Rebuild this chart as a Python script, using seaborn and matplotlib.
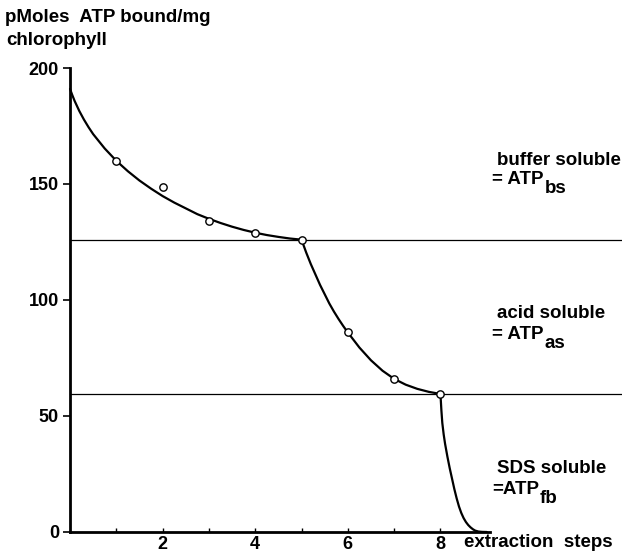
import matplotlib
matplotlib.use('Agg')
import matplotlib.pyplot as plt
import seaborn as sns

# measured points (open circles)
steps = [1, 2, 3, 4, 5, 6, 7, 8]
atp_bound = [160, 148.5, 134, 129, 126, 86, 66, 59.5]

# hand-drawn fitted curve
curve_x = [0, 0.05, 0.1, 0.2, 0.3, 0.4, 0.5, 0.75, 1, 1.25, 1.5, 1.75, 2, 2.25,
           2.5, 2.75, 3, 3.25, 3.5, 3.75, 4, 4.25, 4.5, 4.75, 5,
           5.1, 5.2, 5.3, 5.4, 5.5, 5.6, 5.7, 5.8, 5.9, 6, 6.25, 6.5, 6.75,
           7, 7.25, 7.5, 7.75, 8,
           8.01, 8.02, 8.04, 8.07, 8.1, 8.15, 8.2, 8.25, 8.3, 8.35, 8.4, 8.45, 8.5,
           8.55, 8.6, 8.65, 8.7, 8.75, 8.82, 8.9, 9.0]
curve_y = [191, 188.3, 185.8, 181.5, 177.8, 174.5, 171.5, 165.3, 160, 155.5, 151.5, 148, 144.8, 142,
           139.5, 137, 135, 133.2, 131.6, 130.2, 129, 128, 127.2, 126.5, 126,
           120.5, 115.5, 111, 106.5, 102.5, 98.5, 95, 91.8, 88.8, 86, 79.5, 74, 69.5,
           66, 63.5, 61.7, 60.4, 59.5,
           56, 52.5, 47, 42, 38, 32.5, 27.5, 23, 18.5, 14.5, 11, 8.2, 6,
           4.3, 3, 2, 1.2, 0.6, 0.2, 0.05, 0]

# fraction boundaries and labels
fraction_limits = [126, 59.5]
fraction_names = ['buffer soluble', 'acid soluble', 'SDS soluble']
fraction_eq = ['= ATP', '= ATP', '=ATP']
fraction_subs = ['bs', 'as', 'fb']

sns.set_theme(style='ticks')
plt.rcParams['font.family'] = ['Liberation Sans', 'DejaVu Sans']
plt.rcParams['font.weight'] = 'bold'
plt.rcParams['text.color'] = 'black'

W, H = 622, 559
FS = 13.5
fig = plt.figure(figsize=(W / 100, H / 100), dpi=100)
ax = fig.add_axes([70 / W, 27 / H, 420 / W, 464 / H])

for y in fraction_limits:
    ax.plot([0, 12], [y, y], color='black', lw=0.9, clip_on=False)

sns.lineplot(x=curve_x, y=curve_y, color='black', lw=1.6, ax=ax, sort=False)
ax.lines[-1].set_clip_on(False)
sns.scatterplot(x=steps, y=atp_bound, marker='o', s=28, color='white',
                edgecolor='black', linewidth=1, zorder=4, ax=ax, clip_on=False)

ax.set_xlim(0, 9.07)
ax.set_ylim(0, 200)
ax.set_xticks([2, 4, 6, 8])
ax.set_xticks([1, 3, 5, 7], minor=True)
ax.set_yticks([0, 50, 100, 150, 200])
ax.tick_params(axis='x', which='both', direction='in', length=3, width=1,
               labelsize=13, pad=3, colors='black')
ax.tick_params(axis='y', direction='out', length=5, width=1.2,
               labelsize=13, pad=3, colors='black')
sns.despine(ax=ax)
for s in ['left', 'bottom']:
    ax.spines[s].set_linewidth(2)
    ax.spines[s].set_color('black')
ax.set_xlabel('')
ax.set_ylabel('')

fig.text(5 / W, 1 - 22 / H, 'pMoles  ATP bound/mg', fontsize=FS, va='baseline')
fig.text(6 / W, 1 - 45 / H, 'chlorophyll', fontsize=FS, va='baseline')

name_base = [165, 318, 473]
eq_base = [184, 339, 494]
renderer = fig.canvas.get_renderer()
for name, eq, sub, yn, yl in zip(fraction_names, fraction_eq, fraction_subs, name_base, eq_base):
    fig.text(497 / W, 1 - yn / H, name, fontsize=FS, va='baseline')
    t = fig.text(492 / W, 1 - yl / H, eq, fontsize=FS, va='baseline')
    x1 = t.get_window_extent(renderer).x1
    fig.text((x1 + 1) / W, 1 - (yl + 9) / H, sub, fontsize=FS, va='baseline')

fig.text(464 / W, 1 - 547 / H, 'extraction  steps', fontsize=FS, va='baseline')

fig.savefig('out.png', dpi=100)
